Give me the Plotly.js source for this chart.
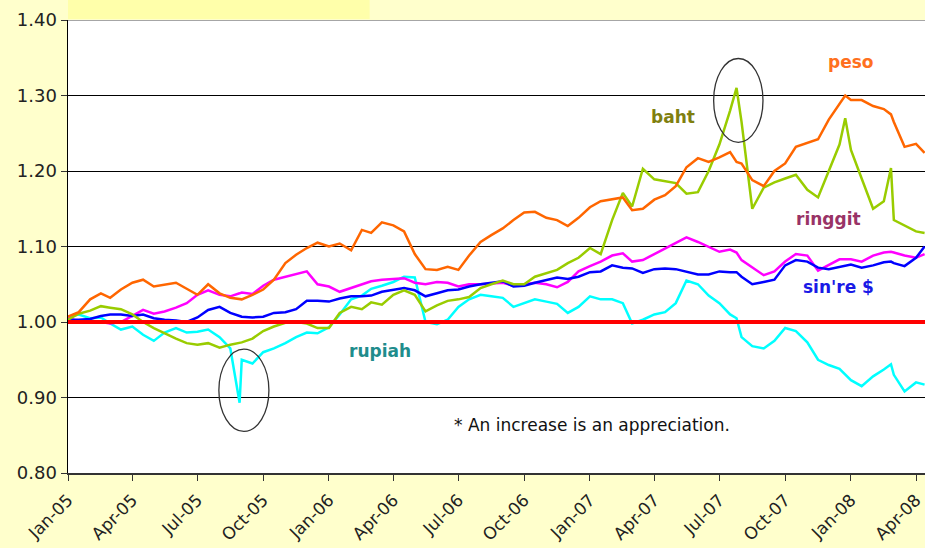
<!DOCTYPE html>
<html>
<head>
<meta charset="utf-8">
<script src="https://cdn.plot.ly/plotly-3.0.1.min.js"></script>
<style>
  html, body { margin: 0; padding: 0; background: #FFFFCC; }
  #chart { width: 925px; height: 548px; }
</style>
</head>
<body>
<div id="chart"></div>
<script>
const dates = [
  '2005-01-01','2005-01-16','2005-02-01','2005-02-16','2005-03-01','2005-03-16','2005-04-01','2005-04-16',
  '2005-05-01','2005-05-16','2005-06-01','2005-06-16','2005-07-01','2005-07-16','2005-08-01','2005-08-16',
  '2005-08-29',
  '2005-09-01','2005-09-16','2005-10-01','2005-10-16','2005-11-01','2005-11-16','2005-12-01','2005-12-16',
  '2006-01-01','2006-01-16','2006-02-01','2006-02-16','2006-03-01','2006-03-16','2006-04-01','2006-04-16',
  '2006-05-01','2006-05-16','2006-06-01','2006-06-16',
  '2006-07-01','2006-07-16','2006-08-01','2006-08-16','2006-09-01','2006-09-16','2006-10-01','2006-10-16',
  '2006-11-01','2006-11-16','2006-12-01','2006-12-16',
  '2007-01-01','2007-01-16','2007-02-01','2007-02-16','2007-03-01','2007-03-16','2007-04-01','2007-04-16',
  '2007-05-01','2007-05-16','2007-06-01','2007-06-16','2007-07-01','2007-07-16',
  '2007-07-25',
  '2007-08-01','2007-08-16','2007-09-01','2007-09-16','2007-10-01','2007-10-16','2007-11-01','2007-11-16',
  '2007-12-01','2007-12-16',
  '2007-12-24',
  '2008-01-01','2008-01-16','2008-02-01','2008-02-16',
  '2008-02-26',
  '2008-03-01','2008-03-16','2008-04-01','2008-04-13'
];

const peso = [
  1.007,1.013,1.030,1.038,1.032,1.043,1.052,1.056,1.047,1.049,1.052,1.044,1.036,1.050,1.038,1.032,
  1.030,
  1.030,1.036,1.043,1.056,1.078,1.089,1.098,1.105,
  1.100,1.104,1.095,1.122,1.118,1.132,1.128,1.120,1.090,1.070,1.069,1.073,
  1.069,1.088,1.106,1.115,1.124,1.135,1.145,1.146,1.138,1.135,1.127,1.138,
  1.152,1.160,1.163,1.165,1.148,1.150,1.162,1.168,1.180,1.205,1.217,1.212,1.218,1.225,
  1.212,
  1.210,1.188,1.180,1.200,1.210,1.232,1.237,1.242,1.268,1.290,
  1.300,
  1.294,1.294,1.286,1.282,
  1.275,
  1.265,1.232,1.236,1.224
];

const baht = [
  1.003,1.011,1.015,1.021,1.019,1.017,1.010,1.000,0.992,0.985,0.978,0.972,0.970,0.972,0.966,0.970,
  0.972,
  0.973,0.978,0.988,0.994,0.999,1.000,0.998,0.992,
  0.992,1.012,1.020,1.017,1.026,1.023,1.036,1.042,1.036,1.014,1.022,1.028,
  1.030,1.033,1.045,1.050,1.055,1.050,1.050,1.060,1.065,1.069,1.078,1.085,
  1.098,1.090,1.135,1.171,1.153,1.203,1.189,1.186,1.184,1.170,1.172,1.200,1.235,1.280,
  1.310,
  1.265,1.150,1.178,1.185,1.190,1.195,1.175,1.165,1.200,1.235,
  1.270,
  1.228,1.190,1.150,1.160,
  1.204,
  1.135,1.128,1.120,1.118
];

const ringgit = [
  1.006,1.000,0.999,1.000,0.998,1.000,1.008,1.016,1.011,1.014,1.019,1.025,1.036,1.042,1.036,1.034,
  1.038,
  1.039,1.037,1.048,1.056,1.060,1.064,1.067,1.050,
  1.047,1.040,1.045,1.050,1.054,1.056,1.057,1.058,1.052,1.050,1.053,1.052,
  1.047,1.050,1.050,1.051,1.052,1.048,1.050,1.052,1.050,1.046,1.053,1.067,
  1.074,1.080,1.088,1.091,1.080,1.082,1.090,1.097,1.105,1.112,1.106,1.100,1.093,1.096,
  1.092,
  1.082,1.072,1.062,1.067,1.080,1.090,1.088,1.068,1.075,1.083,
  1.083,
  1.083,1.080,1.088,1.092,
  1.093,
  1.092,1.088,1.085,1.090
];

const sinDollar = [
  1.003,1.003,1.004,1.008,1.010,1.010,1.008,1.010,1.005,1.003,1.002,1.000,1.006,1.016,1.020,1.012,
  1.008,
  1.007,1.006,1.007,1.012,1.013,1.017,1.028,1.028,
  1.027,1.031,1.034,1.034,1.035,1.040,1.043,1.045,1.042,1.034,1.038,1.042,
  1.043,1.047,1.050,1.052,1.054,1.047,1.048,1.052,1.056,1.059,1.057,1.060,
  1.066,1.067,1.075,1.072,1.071,1.065,1.070,1.071,1.070,1.067,1.063,1.063,1.067,1.066,
  1.066,
  1.060,1.050,1.053,1.056,1.075,1.082,1.080,1.072,1.070,1.073,
  1.074,
  1.076,1.072,1.075,1.079,
  1.080,
  1.078,1.074,1.085,1.100
];

const rupiah = [
  1.007,1.010,1.005,1.006,0.998,0.990,0.994,0.983,0.975,0.986,0.992,0.986,0.987,0.990,0.980,0.965,
  0.893,
  0.950,0.945,0.960,0.965,0.972,0.980,0.986,0.985,
  0.993,1.010,1.030,1.035,1.044,1.048,1.053,1.060,1.059,1.000,0.997,1.003,
  1.020,1.030,1.036,1.034,1.032,1.020,1.025,1.030,1.027,1.024,1.012,1.020,
  1.034,1.030,1.030,1.025,0.998,1.003,1.010,1.013,1.025,1.055,1.050,1.035,1.025,1.010,
  1.005,
  0.980,0.968,0.965,0.975,0.992,0.988,0.973,0.950,0.943,0.938,
  0.930,
  0.923,0.915,0.928,0.937,
  0.944,
  0.930,0.908,0.920,0.917
];

const tickVals = ['2005-01-01','2005-04-01','2005-07-01','2005-10-01','2006-01-01','2006-04-01','2006-07-01',
  '2006-10-01','2007-01-01','2007-04-01','2007-07-01','2007-10-01','2008-01-01','2008-04-01'];
const tickText = ['Jan-05','Apr-05','Jul-05','Oct-05','Jan-06','Apr-06','Jul-06',
  'Oct-06','Jan-07','Apr-07','Jul-07','Oct-07','Jan-08','Apr-08'];

const seriesNames = ['rupiah','ringgit',"sin're $",'baht','peso'];
const seriesValues = [rupiah, ringgit, sinDollar, baht, peso];
const seriesColors = ['#00FFFF','#FF00FF','#0000FF','#99CC00','#FF6600'];

const traces = seriesNames.map((n, k) => ({
  type: 'scatter', mode: 'lines', name: n, x: dates, y: seriesValues[k],
  line: {color: seriesColors[k], width: 2.5}
}));

const FONT = 'DejaVu Sans, Verdana, sans-serif';

const layout = {
  width: 925, height: 548,
  margin: {l: 68, r: 0, t: 20, b: 75},
  paper_bgcolor: '#FFFFCC',
  plot_bgcolor: '#FFFFFF',
  showlegend: false,
  font: {family: FONT, size: 18, color: '#222'},
  xaxis: {
    type: 'date',
    range: ['2005-01-01', '2008-04-13 14:00'],
    tickmode: 'array', tickvals: tickVals, ticktext: tickText,
    tickangle: -45, ticks: 'outside', ticklen: 6, tickcolor: '#333',
    ticklabelstandoff: 3,
    showline: true, linecolor: '#333', linewidth: 1.5,
    showgrid: false, zeroline: false,
    tickfont: {family: FONT, size: 17, color: '#222'}
  },
  yaxis: {
    range: [0.8, 1.4], dtick: 0.1, tick0: 0.8, tickformat: '.2f',
    ticks: 'outside', ticklen: 6, tickcolor: '#333',
    showline: true, linecolor: '#000', linewidth: 1.5,
    showgrid: true, gridcolor: '#000', gridwidth: 1, zeroline: false,
    tickfont: {family: FONT, size: 18, color: '#222'}
  },
  shapes: [
    {type: 'rect', xref: 'paper', yref: 'paper', x0: 0, x1: 0.352, y0: 1.002, y1: 1.05,
     fillcolor: '#FFFFAA', line: {width: 0}, layer: 'below'},
    {type: 'line', xref: 'paper', yref: 'y', x0: 0, x1: 1, y0: 1.4, y1: 1.4,
     line: {color: '#888', width: 1.5}},
    {type: 'line', xref: 'paper', yref: 'y', x0: 0, x1: 1, y0: 1.0, y1: 1.0,
     line: {color: '#FF0000', width: 4}, layer: 'above'},
    {type: 'circle', xref: 'x', yref: 'y', x0: '2005-07-31', x1: '2005-10-09', y0: 0.855, y1: 0.964,
     line: {color: '#333', width: 1.3}},
    {type: 'circle', xref: 'x', yref: 'y', x0: '2007-06-23', x1: '2007-08-31', y0: 1.238, y1: 1.349,
     line: {color: '#333', width: 1.3}}
  ],
  annotations: [
    {x: '2008-01-01', y: 1.345, text: 'peso', showarrow: false,
     font: {family: FONT, size: 17, color: '#FF7020', weight: 'bold'}},
    {x: '2007-04-27', y: 1.272, text: 'baht', showarrow: false,
     font: {family: FONT, size: 17, color: '#7F7F10', weight: 'bold'}},
    {x: '2007-11-30', y: 1.137, text: 'ringgit', showarrow: false,
     font: {family: FONT, size: 17, color: '#993366', weight: 'bold'}},
    {x: '2007-12-14', y: 1.047, text: "sin're $", showarrow: false,
     font: {family: FONT, size: 17, color: '#1A1AE6', weight: 'bold'}},
    {x: '2006-03-13', y: 0.961, text: 'rupiah', showarrow: false,
     font: {family: FONT, size: 17, color: '#208C8C', weight: 'bold'}},
    {x: '2007-01-04', y: 0.864, text: '* An increase is an appreciation.', showarrow: false,
     font: {family: FONT, size: 17, color: '#111'}}
  ]
};

Plotly.newPlot('chart', traces, layout, {staticPlot: true, displayModeBar: false});
</script>
</body>
</html>
